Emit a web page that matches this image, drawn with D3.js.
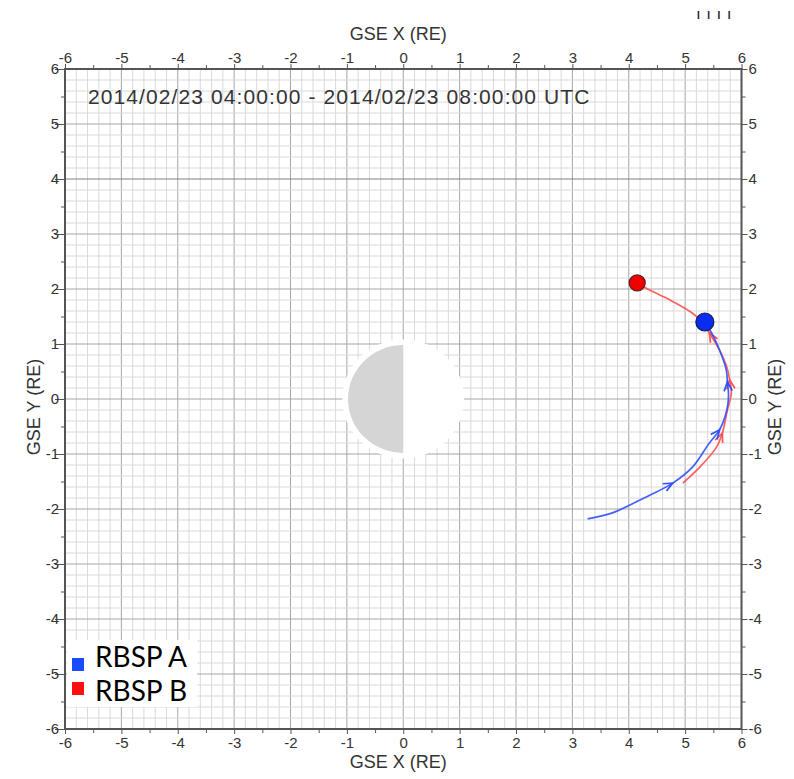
<!DOCTYPE html>
<html>
<head>
<meta charset="utf-8">
<script src="https://cdn.jsdelivr.net/npm/d3@7"></script>
<style>
  html, body { margin: 0; padding: 0; background: #fff; }
  svg { display: block; }
</style>
</head>
<body>
<svg id="chart" width="794" height="779"></svg>
<script>
// Orbit traces in GSE X/Y (Earth radii).
const blueX = [3.27, 3.71, 4.31, 4.78, 5.13, 5.43, 5.61, 5.74, 5.77, 5.75, 5.73, 5.61, 5.47, 5.35];
const blueY = [-2.18, -2.07, -1.78, -1.53, -1.24, -0.80, -0.56, -0.20, 0.07, 0.31, 0.53, 0.89, 1.20, 1.40];
const blueArrows = [3, 6, 9];

const redX = [4.96, 5.26, 5.56, 5.66, 5.75, 5.82, 5.79, 5.74, 5.61, 5.43, 5.35, 5.13, 4.73, 4.37, 4.15];
const redY = [-1.53, -1.24, -0.87, -0.62, -0.20, 0.11, 0.35, 0.58, 0.89, 1.20, 1.35, 1.56, 1.80, 1.98, 2.11];
const redArrows = [3, 6, 9];

const axisTicks = [-6, -5, -4, -3, -2, -1, 0, 1, 2, 3, 4, 5, 6];
const halfTicks = [-5.5, -4.5, -3.5, -2.5, -1.5, -0.5, 0.5, 1.5, 2.5, 3.5, 4.5, 5.5];
const axisTitleX = 'GSE X (RE)';
const axisTitleY = 'GSE Y (RE)';
const timeRange = '2014/02/23 04:00:00 - 2014/02/23 08:00:00 UTC';
const legendNames = ['RBSP A', 'RBSP B'];

const BLUE = '#3050ff';
const RED = '#ff5050';
const FONT = '"Liberation Sans", Arial, Helvetica, sans-serif';
const INK = '#333';

const svg = d3.select('#chart');
const plotL = 65, plotR = 741.5, plotT = 69, plotB = 729;

const x = d3.scaleLinear().domain([-6, 6]).range([plotL, plotR]);
const y = d3.scaleLinear().domain([-6, 6]).range([plotB, plotT]);

// grid: fine lines every 0.2 RE, darker at whole RE
const minor = d3.range(-6, 6.0001, 0.2).map((v) => Math.round(v * 10) / 10);
const grid = svg.append('g');
grid.selectAll('line.vx')
  .data(minor)
  .enter()
  .append('line')
  .attr('x1', (d) => x(d)).attr('x2', (d) => x(d))
  .attr('y1', plotT).attr('y2', plotB)
  .attr('stroke', (d) => (Number.isInteger(d) ? '#a6a6a6' : '#dadada'))
  .attr('stroke-width', 1);
grid.selectAll('line.hy')
  .data(minor)
  .enter()
  .append('line')
  .attr('y1', (d) => y(d)).attr('y2', (d) => y(d))
  .attr('x1', plotL).attr('x2', plotR)
  .attr('stroke', (d) => (d === 4 ? '#808080' : Number.isInteger(d) ? '#a6a6a6' : '#dadada'))
  .attr('stroke-width', 1);

// Earth: white halo, shaded night side on the left
const earth = svg.append('g');
earth.append('ellipse')
  .attr('cx', x(0)).attr('cy', y(0))
  .attr('rx', x(1.08) - x(0)).attr('ry', y(0) - y(1.08))
  .attr('fill', '#fff');
const rx = x(0.98) - x(0), ry = y(0) - y(0.98);
earth.append('path')
  .attr('d', `M${x(0)},${y(0) - ry} A${rx},${ry} 0 0 0 ${x(0)},${y(0) + ry} Z`)
  .attr('fill', '#d5d5d5');

// frame
svg.append('rect')
  .attr('x', plotL).attr('y', plotT)
  .attr('width', plotR - plotL).attr('height', plotB - plotT)
  .attr('fill', 'none').attr('stroke', '#555').attr('stroke-width', 2);

// axes on all four sides
const plain = (d) => String(d);
function styleAxis(g) {
  g.select('.domain').remove();
  g.selectAll('.tick line').attr('stroke', '#555');
  g.selectAll('text')
    .attr('fill', INK)
    .style('font-family', FONT)
    .style('font-size', '15px');
}
function minorTicks(axis, scale) {
  return axis(scale).tickValues(halfTicks).tickSize(4).tickFormat('');
}

svg.append('g').attr('transform', `translate(0,${plotT})`)
  .call(d3.axisTop(x).tickValues(axisTicks).tickFormat(plain).tickSize(5).tickPadding(1)).call(styleAxis);
svg.append('g').attr('transform', `translate(0,${plotT})`)
  .call(minorTicks(d3.axisTop, x)).call(styleAxis);
svg.append('g').attr('transform', `translate(0,${plotB})`)
  .call(d3.axisBottom(x).tickValues(axisTicks).tickFormat(plain).tickSize(5).tickPadding(3)).call(styleAxis);
svg.append('g').attr('transform', `translate(0,${plotB})`)
  .call(minorTicks(d3.axisBottom, x)).call(styleAxis);
svg.append('g').attr('transform', `translate(${plotL},0)`)
  .call(d3.axisLeft(y).tickValues(axisTicks).tickFormat(plain).tickSize(10).tickPadding(-4)).call(styleAxis);
svg.append('g').attr('transform', `translate(${plotL},0)`)
  .call(minorTicks(d3.axisLeft, y)).call(styleAxis);
svg.append('g').attr('transform', `translate(${plotR},0)`)
  .call(d3.axisRight(y).tickValues(axisTicks).tickFormat(plain).tickSize(6).tickPadding(1)).call(styleAxis);
svg.append('g').attr('transform', `translate(${plotR},0)`)
  .call(minorTicks(d3.axisRight, y)).call(styleAxis);

// axis titles
const titles = svg.append('g')
  .attr('fill', INK)
  .style('font-family', FONT)
  .style('font-size', '18px')
  .attr('text-anchor', 'middle');
titles.append('text').attr('x', x(0) - 5).attr('y', 40).text(axisTitleX);
titles.append('text').attr('x', x(0) - 5).attr('y', 768).text(axisTitleX);
titles.append('text')
  .attr('transform', `translate(40,${y(0) + 8}) rotate(-90)`)
  .text(axisTitleY);
titles.append('text')
  .attr('transform', `translate(781,${y(0) + 8}) rotate(-90)`)
  .text(axisTitleY);

// time range label
svg.append('text')
  .attr('x', 88).attr('y', 104)
  .attr('fill', INK)
  .style('font-family', FONT)
  .style('font-size', '21px')
  .style('letter-spacing', '1.1px')
  .text(timeRange);

// cropped remnant at the top right
svg.append('text')
  .attr('x', 697).attr('y', 19)
  .attr('fill', '#222')
  .style('font-family', FONT)
  .style('font-size', '10px')
  .style('font-weight', 'bold')
  .style('letter-spacing', '7.5px')
  .text('IIII');

// orbit traces
const line = d3.line().x((d) => x(d[0])).y((d) => y(d[1])).curve(d3.curveCatmullRom);
const bluePts = blueX.map((v, i) => [v, blueY[i]]);
const redPts = redX.map((v, i) => [v, redY[i]]);

function drawTrace(pts, arrows, color) {
  const g = svg.append('g');
  g.append('path').datum(pts)
    .attr('d', line)
    .attr('fill', 'none')
    .attr('stroke', color)
    .attr('stroke-width', 1.7)
    .attr('stroke-opacity', 0.9);
  arrows.forEach((i) => {
    const px = x(pts[i][0]), py = y(pts[i][1]);
    const ang = Math.atan2(py - y(pts[i - 1][1]), px - x(pts[i - 1][0]));
    const len = 10, spread = 0.42;
    const a1 = ang + Math.PI - spread, a2 = ang + Math.PI + spread;
    g.append('path')
      .attr('d', `M${px + len * Math.cos(a1)},${py + len * Math.sin(a1)} L${px},${py} L${px + len * Math.cos(a2)},${py + len * Math.sin(a2)}`)
      .attr('fill', 'none')
      .attr('stroke', color)
      .attr('stroke-width', 1.7);
  });
}
drawTrace(redPts, redArrows, RED);
drawTrace(bluePts, blueArrows, BLUE);

// spacecraft positions at end of interval
const redEnd = redPts[redPts.length - 1];
const blueEnd = bluePts[bluePts.length - 1];
svg.append('circle')
  .attr('cx', x(redEnd[0])).attr('cy', y(redEnd[1])).attr('r', 8)
  .attr('fill', '#f00000').attr('stroke', '#5a1a1a').attr('stroke-width', 1.2);
svg.append('circle')
  .attr('cx', x(blueEnd[0])).attr('cy', y(blueEnd[1])).attr('r', 9)
  .attr('fill', '#0a2cf0').attr('stroke', '#1a1a4a').attr('stroke-width', 1.2);

// legend
const legend = svg.append('g');
legend.append('rect')
  .attr('x', 67).attr('y', 640).attr('width', 130).attr('height', 67)
  .attr('fill', '#fff');
legendNames.forEach((name, i) => {
  legend.append('rect')
    .attr('x', 72).attr('y', 658 + i * 24).attr('width', 12).attr('height', 13)
    .attr('fill', i === 0 ? '#1a4cff' : '#ff1010');
  legend.append('text')
    .attr('x', 95).attr('y', 667 + i * 34)
    .attr('fill', '#000')
    .style('font-family', 'Lato, "Open Sans", sans-serif')
    .style('font-size', '28px')
    .text(name);
});
</script>
</body>
</html>
